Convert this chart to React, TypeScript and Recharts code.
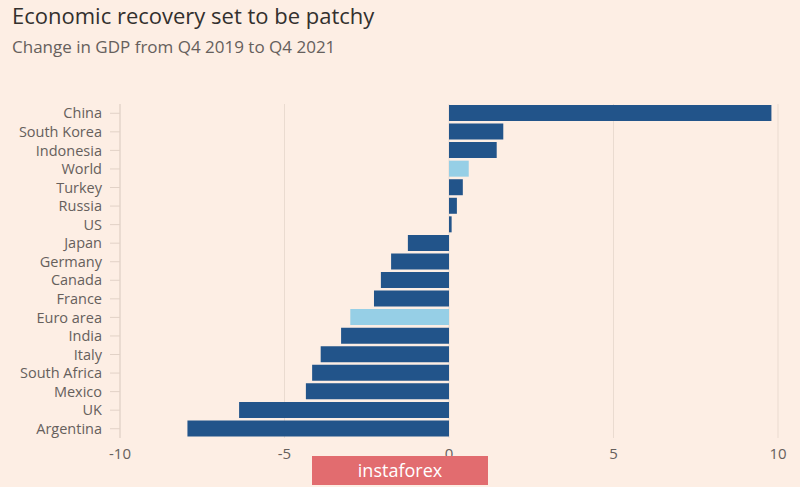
import React from 'react';
import { BarChart, Bar, XAxis, YAxis, CartesianGrid, Cell } from 'recharts';

const countries = [
  'China', 'South Korea', 'Indonesia', 'World', 'Turkey', 'Russia', 'US', 'Japan', 'Germany',
  'Canada', 'France', 'Euro area', 'India', 'Italy', 'South Africa', 'Mexico', 'UK', 'Argentina',
];
const gdpChange = [
  9.8, 1.65, 1.45, 0.6, 0.42, 0.24, 0.08, -1.25, -1.76,
  -2.07, -2.28, -3.0, -3.28, -3.9, -4.16, -4.35, -6.38, -7.95,
];
const aggregates = ['World', 'Euro area'];
const xTicks = [-10, -5, 0, 5, 10];

const data = countries.map((name, i) => ({ name, value: gdpChange[i] }));

const App: React.FC = () => {
  return (
    <div style={{ position: 'absolute', left: 0, top: 0, width: 800, height: 487, background: '#fdeee4', fontFamily: '"Open Sans", sans-serif', overflow: 'hidden' }}>
      <div style={{ position: 'absolute', left: 12, top: 0, fontSize: 22, color: '#33302e', lineHeight: '30px' }}>
        Economic recovery set to be patchy
      </div>
      <div style={{ position: 'absolute', left: 12, top: 36, fontSize: 17, color: '#66605c', lineHeight: '22px' }}>
        Change in GDP from Q4 2019 to Q4 2021
      </div>
      <div style={{ position: 'absolute', left: 0, top: 0 }}>
        <BarChart
          width={800}
          height={487}
          data={data}
          layout="vertical"
          margin={{ top: 104, right: 22, bottom: 19, left: 10 }}
        >
          <CartesianGrid horizontal={false} stroke="#eadbd0" />
          <XAxis
            type="number"
            domain={[-10, 10]}
            ticks={xTicks}
            axisLine={false}
            tickLine={false}
            tick={{ fill: '#66605c', fontSize: 15 }}
            tickMargin={4}
            height={30}
          />
          <YAxis
            type="category"
            dataKey="name"
            width={110}
            axisLine={{ stroke: '#e2d2c7' }}
            tickLine={{ stroke: '#e2d2c7' }}
            tickSize={10}
            tickMargin={8}
            interval={0}
            tick={{ fill: '#66605c', fontSize: 14.5 }}
          />
          <Bar dataKey="value" barSize={16} isAnimationActive={false}>
            {data.map((d) => (
              <Cell key={d.name} fill={aggregates.includes(d.name) ? '#96cfe6' : '#22548a'} />
            ))}
          </Bar>
        </BarChart>
      </div>
      <div style={{ position: 'absolute', left: 312, top: 456, width: 176, height: 29, background: '#e26c6f', color: '#ffffff', fontSize: 18, textAlign: 'center', lineHeight: '29px' }}>
        instaforex
      </div>
    </div>
  );
};

export default App;
